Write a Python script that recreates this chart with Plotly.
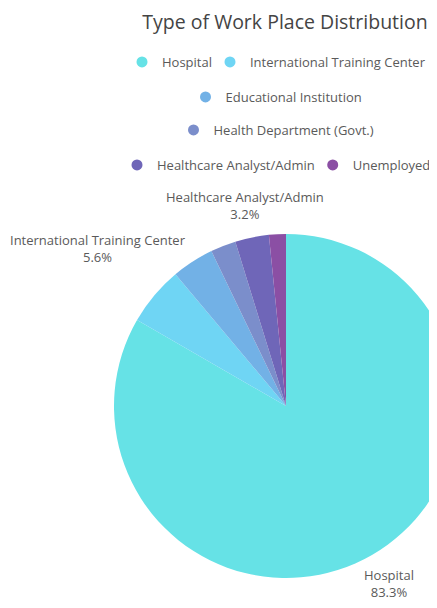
import math
import plotly.graph_objects as go

# ---- data ----
categories = ["Hospital", "International Training Center", "Educational Institution",
              "Health Department (Govt.)", "Healthcare Analyst/Admin", "Unemployed"]
counts = [105, 7, 5, 3, 4, 2]
colors = ["#66e2e6", "#6fd5f4", "#72b1e6", "#7b8ecb", "#6f66b8", "#8b4fa4"]
show_label = [True, True, False, False, True, False]
legend_rows = [["Hospital", "International Training Center"],
               ["Educational Institution"],
               ["Health Department (Govt.)"],
               ["Healthcare Analyst/Admin", "Unemployed"]]
title_text = "Type of Work Place Distribution"

# the page has an 8px body margin, so all pixel positions below are
# (reference position - 8). The figure is a bit wider than the window so the
# pie runs off the right edge, as in the reference.
OFF = 8
W, H = 470, 608
FONT = "Open Sans"
TEXT_COLOR = "#5a5a5a"
LABEL_SIZE = 13

def px_x(x):
    return (x - OFF) / W

def px_y(y):
    return 1 - (y - OFF) / H

fig = go.Figure()

# pie geometry (pixels, in page coordinates)
cx, cy, r = 286, 406, 172
fig.add_trace(go.Pie(
    labels=categories,
    values=counts,
    sort=False,
    direction="clockwise",
    rotation=0,
    marker=dict(colors=colors, line=dict(width=0)),
    textinfo="none",
    showlegend=False,
    hoverinfo="label+percent",
    domain=dict(x=[px_x(cx - r), px_x(cx + r)],
                y=[px_y(cy + r), px_y(cy - r)]),
))

# outside labels, centred on each slice's mid-angle (computed from the data),
# pushed outwards just enough to clear the pie
total = float(sum(counts))
label_r0 = 205
char_w = 6.0
half_h = 18
annotations = []
cum = 0.0
for lab, val, show in zip(categories, counts, show_label):
    mid = (cum + val / 2) / total * 2 * math.pi   # clockwise from 12 o'clock
    cum += val
    if not show:
        continue
    pct = val / total * 100
    text = f"{lab}<br>{pct:.1f}%"
    hw = max(len(lab), len(f"{pct:.1f}%")) * char_w / 2
    ux, uy = math.sin(mid), -math.cos(mid)
    R = label_r0
    while True:
        lx, ly = cx + R * ux, cy + R * uy
        nx = min(max(cx, lx - hw), lx + hw)
        ny = min(max(cy, ly - half_h), ly + half_h)
        if math.hypot(nx - cx, ny - cy) >= r:
            break
        R += 2
    annotations.append(dict(
        text=text, x=px_x(lx), y=px_y(ly), xref="paper", yref="paper",
        xanchor="center", yanchor="middle", showarrow=False, align="center",
        font=dict(family=FONT, size=LABEL_SIZE, color=TEXT_COLOR),
    ))

# legend entries (circle markers), arranged in centred rows like the reference
row_centers_px = [62, 97, 130, 165]
legend_names = ["legend", "legend2", "legend3", "legend4"]
for ri, row in enumerate(legend_rows):
    for name in row:
        i = categories.index(name)
        fig.add_trace(go.Scatter(
            x=[None], y=[None], mode="markers", name=name,
            marker=dict(symbol="circle", size=11, color=colors[i]),
            legend=legend_names[ri], showlegend=True, hoverinfo="skip",
        ))

layout_legends = {}
for ri, ln in enumerate(legend_names):
    layout_legends[ln] = dict(
        orientation="h", x=px_x(280), xanchor="center",
        y=px_y(row_centers_px[ri]), yanchor="middle",
        font=dict(family=FONT, size=13, color=TEXT_COLOR),
        bgcolor="rgba(0,0,0,0)", itemwidth=30, tracegroupgap=0,
        indentation=-7, traceorder="normal",
    )

fig.update_layout(
    width=W, height=H,
    margin=dict(l=0, r=0, t=0, b=0, pad=0, autoexpand=False),
    paper_bgcolor="white", plot_bgcolor="white",
    title=dict(text=title_text, x=px_x(285), xanchor="center",
               y=px_y(22), yanchor="middle", xref="paper", yref="paper",
               font=dict(family=FONT, size=19.5, color="#444444")),
    xaxis=dict(visible=False), yaxis=dict(visible=False),
    annotations=annotations,
    **layout_legends,
)

fig.write_html("out.html")
